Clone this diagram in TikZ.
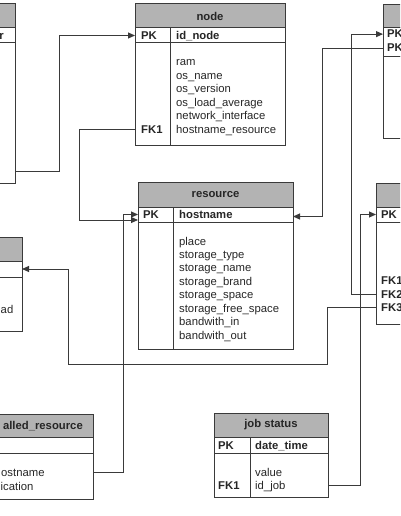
\documentclass[tikz,border=0pt]{standalone}
\usepackage{fontspec}
\setmainfont{Liberation Sans}
\usetikzlibrary{arrows.meta}
\definecolor{headgray}{HTML}{B3B3B3}
\definecolor{linegray}{HTML}{3A3A3A}
\definecolor{txtgray}{HTML}{262626}
\newcommand{\erfont}{\fontsize{11.3}{13.5}\selectfont}
\tikzset{
  tblhead/.style={draw=linegray, fill=headgray, line width=1pt, anchor=north west, inner sep=0pt, outer sep=0pt, font=\erfont\bfseries, text=txtgray},
  tblbox/.style={draw=linegray, line width=1pt, anchor=north west, inner sep=0pt, outer sep=0pt},
  keytxt/.style={anchor=base west, inner sep=0pt, font=\erfont\bfseries, text=txtgray},
  fieldtxt/.style={anchor=base west, inner sep=0pt, font=\erfont, text=txtgray},
  colrule/.style={draw=linegray, line width=1pt},
  fklink/.style={draw=linegray, line width=1pt, -{Triangle[length=7pt,width=6pt]}}
}
\begin{document}
\begin{tikzpicture}[x=1pt, y=-1pt]
  \useasboundingbox (0,0) rectangle (400,516);
  \begin{scope}
  \clip (0,0) rectangle (400,516);

  % top left table (cut off)
  \node[tblhead, minimum width=115, minimum height=24] (tl-h) at (-100,4) {};
  \node[tblbox, minimum width=115, minimum height=15] (tl-k) at (-100,28) {};
  \node[tblbox, minimum width=115, minimum height=140] (tl-b) at (-100,43) {};
  \node[keytxt, anchor=base east] (tl-pk) at (4,40) {r};
  \coordinate (tl-fk) at (15,171);

  % node
  \node[tblhead, minimum width=150, minimum height=24] (node-h) at (135,4) {node};
  \node[tblbox, minimum width=150, minimum height=15] (node-k) at (135,28) {};
  \node[tblbox, minimum width=150, minimum height=102] (node-b) at (135,43) {};
  \draw[colrule] ([xshift=35pt]node-k.north west) -- ([xshift=35pt]node-b.south west);
  \node[keytxt] (node-pk) at (141,39.5) {PK};
  \node[keytxt] (node-id) at (176,39.5) {id\_node};
  \foreach \f [count=\i from 0] in {ram,os\_name,os\_version,os\_load\_average,network\_interface,hostname\_resource}
    \node[fieldtxt] (node-f\i) at (176,66+13.4*\i) {\f};
  \node[keytxt] (node-fk1) at (141,133) {FK1};

  % resource
  \node[tblhead, minimum width=155, minimum height=25] (res-h) at (138,182) {resource};
  \node[tblbox, minimum width=155, minimum height=15] (res-k) at (138,207) {};
  \node[tblbox, minimum width=155, minimum height=127] (res-b) at (138,222) {};
  \draw[colrule] ([xshift=35pt]res-k.north west) -- ([xshift=35pt]res-b.south west);
  \node[keytxt] (res-pk) at (143,218.5) {PK};
  \node[keytxt] (res-id) at (179,218.5) {hostname};
  \foreach \f [count=\i from 0] in {place,storage\_type,storage\_name,storage\_brand,storage\_space,storage\_free\_space,bandwith\_in,bandwith\_out}
    \node[fieldtxt] (res-f\i) at (179,245+13.43*\i) {\f};

  % top right table (cut off)
  \node[tblhead, minimum width=100, minimum height=23] (tr-h) at (383,5) {};
  \node[tblbox, minimum width=100, minimum height=29] (tr-k) at (383,28) {};
  \node[tblbox, minimum width=100, minimum height=81] (tr-b) at (383,57) {};
  \node[keytxt] (tr-pk1) at (387,38) {PK};
  \node[keytxt] (tr-pk2) at (387,52) {PK};

  % right table (cut off)
  \node[tblhead, minimum width=100, minimum height=24] (rt-h) at (376,183) {};
  \node[tblbox, minimum width=100, minimum height=15] (rt-k) at (376,207) {};
  \node[tblbox, minimum width=100, minimum height=102] (rt-b) at (376,222) {};
  \node[keytxt] (rt-pk) at (381,218.5) {PK};
  \node[keytxt] (rt-fk1) at (381,284) {FK1};
  \node[keytxt] (rt-fk2) at (381,298) {FK2};
  \node[keytxt] (rt-fk3) at (381,311) {FK3};

  % left middle table (cut off)
  \node[tblhead, minimum width=122, minimum height=24] (lm-h) at (-100,237) {};
  \node[tblbox, minimum width=122, minimum height=16] (lm-k) at (-100,261) {};
  \node[tblbox, minimum width=122, minimum height=54] (lm-b) at (-100,277) {};
  \node[fieldtxt, anchor=base east] (lm-f) at (13.5,313) {ad};

  % installed resource (cut off)
  \node[tblhead, minimum width=153, minimum height=23] (ir-h) at (-60,414) {};
  \node[keytxt, anchor=base east] (ir-name) at (83,429.5) {alled\_resource};
  \node[tblbox, minimum width=153, minimum height=16] (ir-k) at (-60,437) {};
  \node[tblbox, minimum width=153, minimum height=46] (ir-b) at (-60,453) {};
  \node[fieldtxt] (ir-fk) at (1,476) {ostname};
  \node[fieldtxt] (ir-f) at (0.5,490) {ication};

  % job status
  \node[tblhead, minimum width=114, minimum height=24] (js-h) at (214,413) {job status};
  \node[tblbox, minimum width=114, minimum height=16] (js-k) at (214,437) {};
  \node[tblbox, minimum width=114, minimum height=44] (js-b) at (214,453) {};
  \draw[colrule] ([xshift=36pt]js-k.north west) -- ([xshift=36pt]js-b.south west);
  \node[keytxt] (js-pk) at (218,449) {PK};
  \node[keytxt] (js-id) at (255,449) {date\_time};
  \node[fieldtxt] (js-f0) at (255,476) {value};
  \node[fieldtxt] (js-f1) at (255,489) {id\_job};
  \node[keytxt] (js-fk1) at (218,489) {FK1};

  % links
  \coordinate (res-in1) at ([yshift=-5.5pt]res-k.west);
  \coordinate (res-in2) at ([yshift=-2pt]res-k.east);
  \draw[fklink] (tl-fk) -| (59,0 |- node-k.west) -- (node-k.west);
  \draw[fklink] (node-b.west |- node-fk1) -| (79,0 |- res-in1) -- (res-in1);
  \draw[fklink] (ir-b.east |- ir-fk) -| (123,0 |- res-k.west) -- (res-k.west);
  \draw[fklink] (tr-k.west |- tr-pk2) -| (322,0 |- res-in2) -- (res-in2);
  \draw[fklink] (rt-b.west |- rt-fk2) -- (351,0 |- rt-fk2) |- (tr-k.west |- tr-pk1);
  \draw[fklink] (js-b.east |- js-fk1) -| (360,0 |- rt-k.west) -- (rt-k.west);
  \draw[fklink] (rt-b.west |- rt-fk3) -- (327,0 |- rt-fk3) |- (68,364) |- (lm-k.east);
  \end{scope}
\end{tikzpicture}
\end{document}
